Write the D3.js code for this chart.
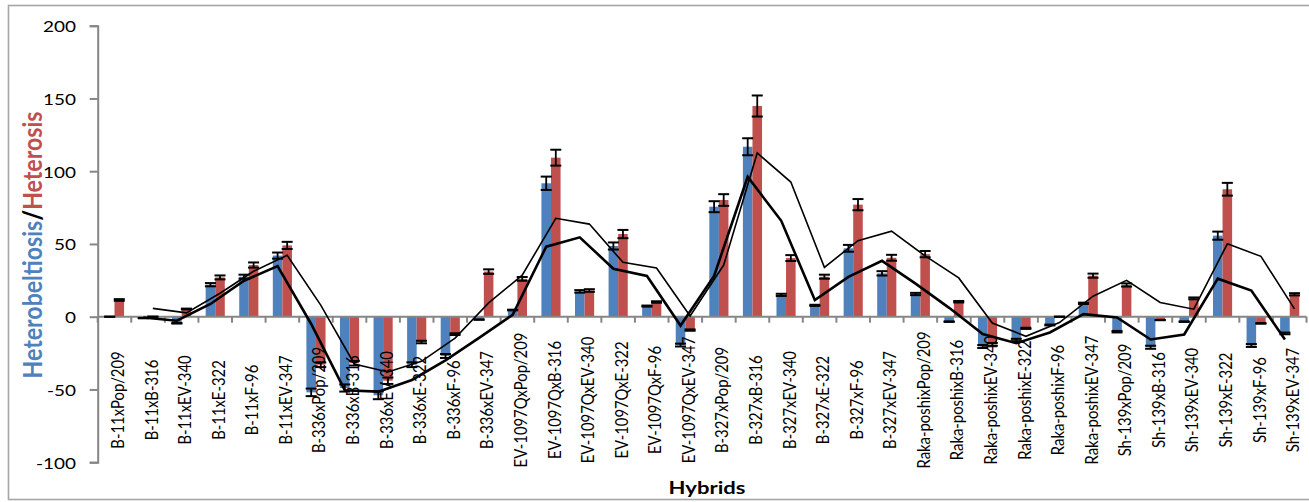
<!DOCTYPE html>
<html>
<head>
<meta charset="utf-8">
<script src="https://cdn.jsdelivr.net/npm/d3@7"></script>
<style>
  html, body { margin: 0; padding: 0; background: #fff; }
  svg { display: block; }
  text { font-family: Lato, "Open Sans", sans-serif; }
</style>
</head>
<body>
<svg id="chart" width="1309" height="502"></svg>
<script>
// Hybrid combinations (x categories)
const hybrids = [
  "B-11xPop/209", "B-11xB-316", "B-11xEV-340", "B-11xE-322", "B-11xF-96", "B-11xEV-347",
  "B-336xPop/209", "B-336xB-316", "B-336xEV-340", "B-336xE-322", "B-336xF-96", "B-336xEV-347",
  "EV-1097QxPop/209", "EV-1097QxB-316", "EV-1097QxEV-340", "EV-1097QxE-322", "EV-1097QxF-96", "EV-1097QxEV-347",
  "B-327xPop/209", "B-327xB-316", "B-327xEV-340", "B-327xE-322", "B-327xF-96", "B-327xEV-347",
  "Raka-poshixPop/209", "Raka-poshixB-316", "Raka-poshixEV-340", "Raka-poshixE-322", "Raka-poshixF-96", "Raka-poshixEV-347",
  "Sh-139xPop/209", "Sh-139xB-316", "Sh-139xEV-340", "Sh-139xE-322", "Sh-139xF-96", "Sh-139xEV-347"
];

// Heterobeltiosis (%) per hybrid
const heterobeltiosis = [
  0, -1, -4.5, 22, 27.5, 42,
  -52, -49, -54, -33, -27, -2,
  4.6, 91.7, 17.4, 48.6, 7.3, -19.5,
  75.6, 116.8, 15, 7.8, 47, 29.8,
  15.6, -3.4, -20.5, -16, -5.7, 9.2,
  -10.3, -21, -3.4, 55.7, -19.8, -11.5
];

// Heterosis (%) per hybrid
const heterosis = [
  11.5, 0, 5.3, 27, 35.5, 49,
  -33, -32, -44, -17.4, -12, 31,
  26, 109.3, 18, 56.8, 10.1, -9.2,
  80.2, 144.8, 40.3, 27.5, 77, 40.5,
  43, 10.3, -19, -8, 0, 28.2,
  21.8, -2.3, 12.6, 87.6, -4.6, 15.4
];

const yTickValues = [-100, -50, 0, 50, 100, 150, 200];
const errorShare = 0.05;     // error bars: 5% of the value
const trendPeriod = 2;       // moving-average trendline period

const W = 1309, H = 502;
const plot = { left: 97.7, right: 1306.5, top: 25.7, bottom: 462.2 };
const CAP = 0.7165;          // Lato cap height per em

const svg = d3.select("#chart");

function measure(sample, weight) {
  const t = svg.append("text").style("font-size", "100px").style("font-weight", weight).text(sample);
  const w = t.node().getComputedTextLength() / 100;
  t.remove();
  return w;
}
// Rotated text: run length follows font size, glyph height is widened on screen
function fitRotated(sample, weight, len, cap) {
  const size = len / measure(sample, weight);
  return { size, stretch: cap / (CAP * size) };
}
// Horizontal text: cap height sets the size, the run is widened to its length
function fitHorizontal(sample, weight, len, cap) {
  const size = cap / CAP;
  return { size, stretch: len / (measure(sample, weight) * size) };
}

const tickType = fitHorizontal("200", "normal", 33, 11.5);
const catType = fitRotated("EV-1097QxPop/209", "normal", 135, 12.6);
const xTitleType = fitHorizontal("Hybrids", "bold", 77, 12.2);
const yTitleType = fitRotated("Heterobeltiosis/Heterosis", "bold", 267, 18.5);

// outer chart frame
svg.append("rect")
  .attr("x", 8.5).attr("y", 5.5)
  .attr("width", W + 10).attr("height", 494)
  .attr("fill", "#fff")
  .attr("stroke", "#a6a6a6").attr("stroke-width", 1.6);

const y = d3.scaleLinear().domain([-100, 200]).range([plot.bottom, plot.top]);

const x = d3.scaleBand()
  .domain(hybrids)
  .range([plot.left, plot.right])
  .paddingInner(0.43)
  .paddingOuter(0.215);

const series = [
  { key: "hb", values: heterobeltiosis, color: "#4f81bd", lineWidth: 2.6 },
  { key: "ht", values: heterosis, color: "#c0504d", lineWidth: 1.6 }
];

const xs = d3.scaleBand().domain(series.map(s => s.key)).range([0, x.bandwidth()]);

// bars
const barLayer = svg.append("g");
series.forEach(s => {
  barLayer.selectAll("rect.b-" + s.key)
    .data(s.values.map((v, i) => ({ v, c: hybrids[i] })))
    .join("rect")
    .attr("class", "b-" + s.key)
    .attr("x", d => x(d.c) + xs(s.key))
    .attr("width", xs.bandwidth())
    .attr("y", d => y(Math.max(0, d.v)))
    .attr("height", d => Math.abs(y(d.v) - y(0)))
    .attr("fill", s.color);
});

// y axis
const yAxis = d3.axisLeft(y).tickValues(yTickValues).tickSize(8).tickPadding(13.7);
const gy = svg.append("g").attr("transform", `translate(${plot.left},0)`).call(yAxis);
gy.select(".domain").attr("stroke", "#868686").attr("stroke-width", 2);
gy.selectAll(".tick line").attr("stroke", "#868686").attr("stroke-width", 2);
gy.selectAll(".tick text").remove();
gy.selectAll(".tick").append("text")
  .attr("transform", `translate(-21.7,0) scale(${tickType.stretch},1)`)
  .attr("text-anchor", "end")
  .attr("dominant-baseline", "central")
  .attr("fill", "#000")
  .style("font-size", tickType.size + "px")
  .text(d => d);

// category axis at zero
const gx = svg.append("g");
gx.append("line")
  .attr("x1", plot.left).attr("x2", plot.right)
  .attr("y1", y(0)).attr("y2", y(0))
  .attr("stroke", "#868686").attr("stroke-width", 2);
const step = x.step();
const bounds = hybrids.map(c => x(c) - x.paddingOuter() * step).concat([plot.right]);
gx.selectAll("line.tk").data(bounds).join("line")
  .attr("class", "tk")
  .attr("x1", d => d).attr("x2", d => d)
  .attr("y1", y(0)).attr("y2", y(0) + 6)
  .attr("stroke", "#868686").attr("stroke-width", 2);
gx.selectAll("text.cat").data(hybrids).join("text")
  .attr("class", "cat")
  .attr("transform", d => `translate(${x(d) + x.bandwidth() / 2 + 2.5},400) scale(${catType.stretch},1) rotate(-90)`)
  .attr("text-anchor", "middle")
  .attr("dominant-baseline", "central")
  .attr("fill", "#000")
  .style("font-size", catType.size + "px")
  .text(d => d);

// error bars
const errLayer = svg.append("g");
const capHalf = 5.5;
series.forEach(s => {
  s.values.forEach((v, i) => {
    const cx = x(hybrids[i]) + xs(s.key) + xs.bandwidth() / 2;
    const e = Math.abs(v) * errorShare;
    const y1 = y(v + e), y2 = y(v - e);
    errLayer.append("line").attr("x1", cx).attr("x2", cx).attr("y1", y1).attr("y2", y2)
      .attr("stroke", "#000").attr("stroke-width", 1.8);
    [y1, y2].forEach(yy => errLayer.append("line")
      .attr("x1", cx - capHalf).attr("x2", cx + capHalf)
      .attr("y1", yy).attr("y2", yy)
      .attr("stroke", "#000").attr("stroke-width", 2));
  });
});

// moving-average trendlines, one per series
const lineLayer = svg.append("g");
series.forEach(s => {
  const pts = [];
  for (let i = trendPeriod - 1; i < s.values.length; i++) {
    const avg = d3.mean(s.values.slice(i - trendPeriod + 1, i + 1));
    pts.push([x(hybrids[i]) + xs(s.key) + xs.bandwidth() / 2, y(avg)]);
  }
  lineLayer.append("path")
    .attr("d", d3.line()(pts))
    .attr("fill", "none")
    .attr("stroke", "#000")
    .attr("stroke-width", s.lineWidth)
    .attr("stroke-linejoin", "miter");
});

// axis titles
svg.append("text")
  .attr("transform", `translate(707,488) scale(${xTitleType.stretch},1)`)
  .attr("text-anchor", "middle")
  .attr("dominant-baseline", "central")
  .style("font-size", xTitleType.size + "px")
  .style("font-weight", "bold")
  .attr("fill", "#000")
  .text("Hybrids");

const yTitle = svg.append("text")
  .attr("transform", `translate(31,245) scale(${yTitleType.stretch},1) rotate(-90)`)
  .attr("text-anchor", "middle")
  .attr("dominant-baseline", "central")
  .style("font-size", yTitleType.size + "px")
  .style("font-weight", "bold");
yTitle.append("tspan").attr("fill", "#4f81bd").text("Heterobeltiosis");
yTitle.append("tspan").attr("fill", "#000").style("font-weight", "900").text("/");
yTitle.append("tspan").attr("fill", "#c0504d").text("Heterosis");
</script>
</body>
</html>
